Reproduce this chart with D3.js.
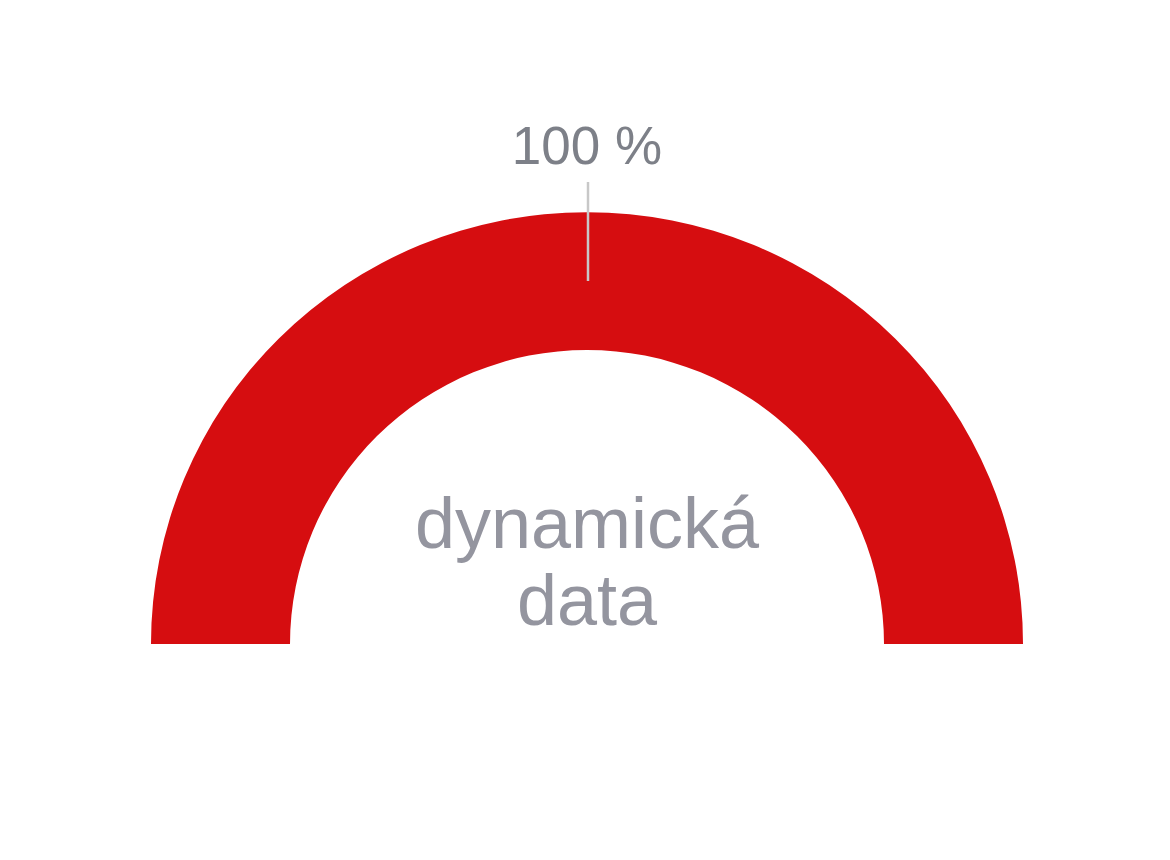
<!DOCTYPE html>
<html><head><meta charset="utf-8">
<script src="https://cdn.jsdelivr.net/npm/d3@7"></script>
<style>html,body{margin:0;padding:0;background:#fff;}</style>
</head><body>
<svg id="c" width="1170" height="860"></svg>
<script>
const categories = ["dynamická data"];
const values = [100];
const labels = ["100 %"];
const centerLines = ["dynamická", "data"];

const svg = d3.select("#c");
const cx = 587, cy = 644, rOuter = 436, rInner = 297;
const g = svg.append("g").attr("transform", `translate(${cx},${cy})`);

const pie = d3.pie().sort(null).value(d => d)
  .startAngle(-Math.PI/2).endAngle(Math.PI/2);
const arc = d3.arc().innerRadius(rInner).outerRadius(rOuter);
const arcs = pie(values);

g.append("g").attr("transform", "scale(1,0.99)")
  .selectAll("path.slice").data(arcs).enter().append("path")
  .attr("class","slice").attr("d", arc).attr("fill", "#d60d10");

// connector lines and labels
arcs.forEach((a, i) => {
  const mid = (a.startAngle + a.endAngle) / 2;
  const p = r => [Math.sin(mid) * r, -Math.cos(mid) * r];
  const p1 = p(rOuter - 73), p2 = p(rOuter + 26), p3 = p(rOuter + 44);
  g.append("line").attr("x1", p1[0] + 1).attr("y1", p1[1]).attr("x2", p2[0] + 1).attr("y2", p2[1])
    .attr("stroke", "#c8c8c8").attr("stroke-width", 2.5);
  g.append("text").attr("x", p3[0]).attr("y", p3[1])
    .attr("text-anchor", "middle")
    .attr("font-family", "'Liberation Sans', Arial, sans-serif")
    .attr("font-size", 53).attr("fill", "#7d8088")
    .text(labels[i]);
});

const ct = g.append("text").attr("text-anchor", "middle")
  .attr("font-family", "'Liberation Sans', Arial, sans-serif")
  .attr("font-size", 72).attr("fill", "#94959f");
centerLines.forEach((t, i) => {
  ct.append("tspan").attr("x", 0).attr("y", -96 + i * 77).text(t);
});
</script>
</body></html>
